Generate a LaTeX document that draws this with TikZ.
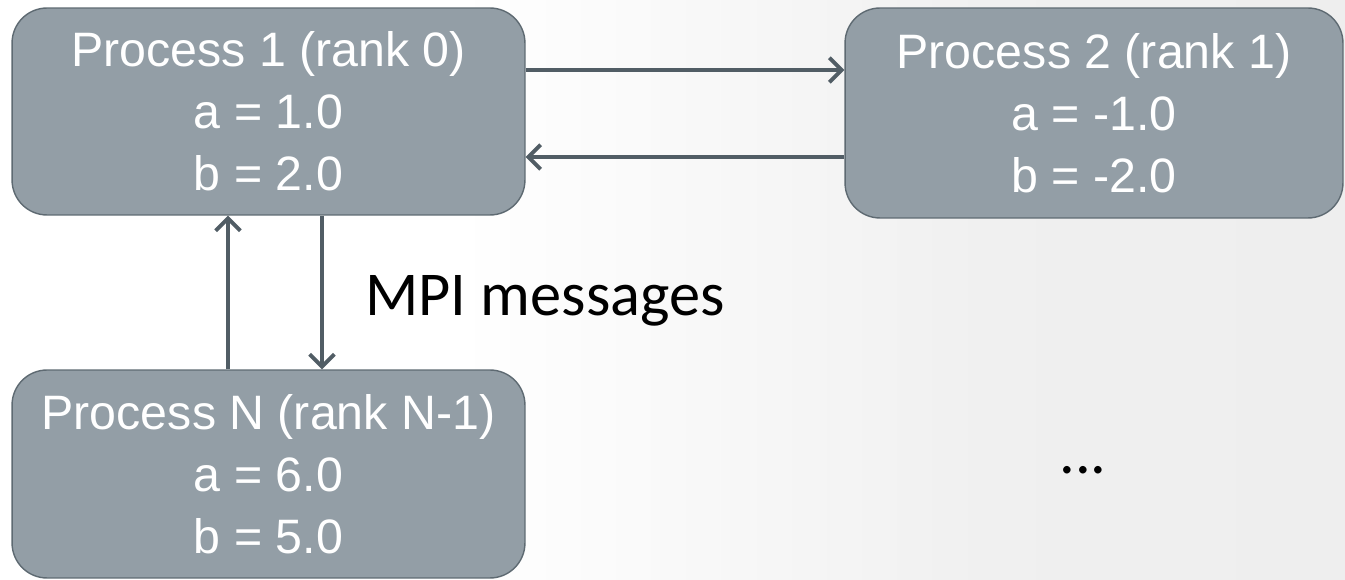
\documentclass[tikz,border=0pt]{standalone}
\usepackage{fontspec}
\setmainfont{Liberation Sans}
\newfontfamily\calibri{Carlito}
\usetikzlibrary{arrows.meta}

\definecolor{boxfill}{HTML}{939EA6}
\definecolor{boxline}{HTML}{5E6A72}
\definecolor{linkcol}{HTML}{515D65}

% light backdrop, white on the left and greyer to the right
\pgfdeclarehorizontalshading{backdrop}{100bp}{color(0bp)=(white); color(42bp)=(white); color(62bp)=(black!6); color(100bp)=(black!8)}

\begin{document}
\begin{tikzpicture}[
  x = 0.02cm, y = -0.02cm,
  proc/.style = {rectangle, rounded corners = 0.7cm, fill = boxfill, draw = boxline,
                 line width = 0.8pt, text = white, align = center,
                 minimum width = #1, inner sep = 0pt,
                 font = \fontsize{27.5}{35.4}\selectfont},
  proc/.default = 10.26cm,
  link/.style = {draw = linkcol, line width = 2.2pt,
                 -{Straight Barb[length = 7pt, width = 14pt, line width = 2.2pt]}},
  note/.style = {font = \calibri\fontsize{35.5}{40}\selectfont, inner sep = 0pt},
  ]
  \useasboundingbox (0,0) rectangle (1345,580);
  \shade[shading = backdrop] (0,0) rectangle (1345,580);

  % the three processes
  \node[proc, minimum height = 4.14cm] (p1) at (268.5,111.5)
    {Process 1 (rank 0)\\a = 1.0\\b = 2.0};
  \node[proc = 9.96cm, minimum height = 4.2cm] (p2) at (1094,113)
    {Process 2 (rank 1)\\a = -1.0\\b = -2.0};
  \node[proc, minimum height = 4.16cm] (pN) at (268.5,474)
    {Process N (rank N-1)\\a = 6.0\\b = 5.0};

  % where the message lines run
  \coordinate (hi) at (0,70);
  \coordinate (lo) at (0,157);
  \coordinate (upx) at (228,0);
  \coordinate (downx) at (322,0);

  \draw[link] (p1.east |- hi) -- (p2.west |- hi);
  \draw[link] (p2.west |- lo) -- (p1.east |- lo);
  \draw[link] (pN.north -| upx) -- (p1.south -| upx);
  \draw[link] (p1.south -| downx) -- (pN.north -| downx);

  \node[note, anchor = base west] (msg) at (365,316) {MPI messages};
  \node[note, anchor = base] (dots) at (1083,474) {...};
\end{tikzpicture}
\end{document}
